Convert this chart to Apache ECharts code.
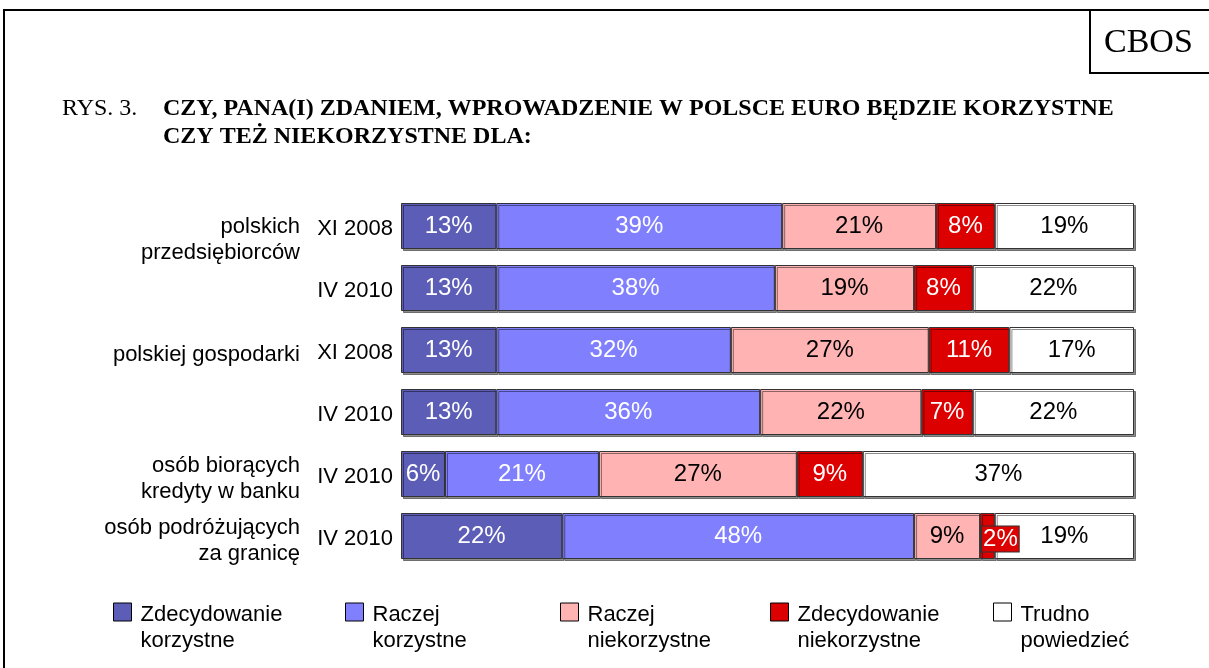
<!DOCTYPE html>
<html>
<head>
<meta charset="utf-8">
<script src="https://cdn.jsdelivr.net/npm/echarts@6/dist/echarts.min.js"></script>
<style>
	html, body {margin: 0; padding: 0; background: #fff;}
	#chart {width: 1209px; height: 668px;}
</style>
</head>
<body>
<div id="chart"></div>
<script>
	//------------------ dane -------------
	var dates = ['XI 2008', 'IV 2010', 'XI 2008', 'IV 2010', 'IV 2010', 'IV 2010'];
	var groups = ['polskich\nprzedsiębiorców', '', 'polskiej gospodarki', '', 'osób biorących\nkredyty w banku', 'osób podróżujących\nza granicę'];
	var zdecKorzystne = [13, 13, 13, 13, 6, 22];
	var raczKorzystne = [39, 38, 32, 36, 21, 48];
	var raczNiekorzystne = [21, 19, 27, 22, 27, 9];
	var zdecNiekorzystne = [8, 8, 11, 7, 9, 2];
	var trudno = [19, 22, 17, 22, 37, 19];
	var seriesNames = ['Zdecydowanie\nkorzystne', 'Raczej\nkorzystne', 'Raczej\nniekorzystne', 'Zdecydowanie\nniekorzystne', 'Trudno\npowiedzieć'];

	//------------------ style -------------
	var colors = ['#5b5db7', '#8080ff', '#ffb3b3', '#dd0000', '#ffffff'];
	var labelColors = ['#fff', '#fff', '#000', '#fff', '#000'];
	var legendLeft = [108, 340, 555, 765, 988];
	var font = 'Liberation Sans, Arial, sans-serif';
	var serif = 'Liberation Serif, Times New Roman, serif';

	var myChart = echarts.init(document.getElementById('chart'));

	var allData = [zdecKorzystne, raczKorzystne, raczNiekorzystne, zdecNiekorzystne, trudno];

	var series = allData.map(function (arr, s) {
		return {
			name: seriesNames[s],
			type: 'bar',
			stack: 'all',
			barWidth: 46,
			data: arr.map(function (v, i) {
				// mały segment 2% - etykieta w ramce obok
				if (s === 3 && v < 4) {
					return {
						value: v,
						label: {
							backgroundColor: '#dd0000',
							borderColor: '#333',
							borderWidth: 1,
							padding: [1, 1, 0, 1],
							offset: [13, 3]
						}
					};
				}
				return v;
			}),
			itemStyle: {
				color: colors[s],
				borderColor: '#333',
				borderWidth: 1,
				shadowColor: 'rgba(0,0,0,0.45)',
				shadowOffsetX: 2,
				shadowOffsetY: 2,
				shadowBlur: 0
			},
			label: {
				show: true,
				position: 'inside',
				formatter: '{c}%',
				color: labelColors[s],
				fontFamily: font,
				fontSize: 24
			}
		};
	});

	// etykieta z odstępem u góry (przesuwa tekst w dół)
	function spaced(value) {
		if (!value) return '';
		var lines = value.split('\n').map(function (l) { return '{a|' + l + '}'; });
		return '{s| }\n' + lines.join('\n');
	}

	// kwadrat u góry, tekst w dwóch wierszach obok
	var legendIcon = 'path://M0,0L18,0L18,18L0,18Z M0,50';

	var legends = seriesNames.map(function (n, s) {
		return {
			data: [n],
			left: legendLeft[s],
			top: 597,
			icon: legendIcon,
			itemWidth: 18,
			itemHeight: 50,
			selectedMode: false,
			itemStyle: {borderColor: '#000', borderWidth: 1, shadowColor: 'transparent', shadowOffsetX: 0, shadowOffsetY: 0},
			textStyle: {
				fontFamily: font,
				fontSize: 22,
				lineHeight: 26,
				color: '#000',
				padding: [0, 0, 0, 4]
			}
		};
	});

	var option = {
		animation: false,
		backgroundColor: '#fff',
		title: [
			{
				text: 'RYS. 3.',
				left: 57, top: 90,
				textStyle: {fontFamily: serif, fontWeight: 'normal', fontSize: 24, lineHeight: 28, color: '#000'}
			},
			{
				text: 'CZY, PANA(I) ZDANIEM, WPROWADZENIE W POLSCE EURO BĘDZIE KORZYSTNE\nCZY TEŻ NIEKORZYSTNE DLA:',
				left: 158, top: 90,
				textStyle: {fontFamily: serif, fontWeight: 'bold', fontSize: 24, lineHeight: 28, color: '#000'}
			},
			{
				text: 'CBOS',
				left: 1099, top: 21,
				textStyle: {fontFamily: serif, fontWeight: 'normal', fontSize: 34, color: '#000'}
			}
		],
		graphic: [
			{type: 'rect', shape: {x: 4, y: 10, width: 1230, height: 700}, style: {fill: 'none', stroke: '#000', lineWidth: 2}, silent: true},
			{type: 'rect', shape: {x: 1090, y: 10, width: 140, height: 63}, style: {fill: 'none', stroke: '#000', lineWidth: 2}, silent: true}
		],
		legend: legends,
		grid: {left: 401, top: 195, width: 733, height: 372},
		xAxis: {
			type: 'value',
			min: 0,
			max: 100,
			show: false
		},
		yAxis: [
			{
				type: 'category',
				inverse: true,
				data: dates,
				axisLine: {show: false},
				axisTick: {show: false},
				axisLabel: {
					margin: 8,
					formatter: function (v) { return spaced(v); },
					rich: {
						s: {fontSize: 4, lineHeight: 6},
						a: {fontFamily: font, fontSize: 22, lineHeight: 26, color: '#000', align: 'right'}
					}
				}
			},
			{
				type: 'category',
				inverse: true,
				position: 'left',
				offset: 93,
				data: groups,
				axisLine: {show: false},
				axisTick: {show: false},
				axisLabel: {
					margin: 8,
					formatter: function (v, i) {
						// pierwszy wiersz nazwy na wysokości słupka
						return i === 0 ? '{s| }\n{t| }\n' + spaced(v).replace('{s| }\n', '') : spaced(v);
					},
					rich: {
						s: {fontSize: 4, lineHeight: 10},
						t: {fontSize: 4, lineHeight: 18},
						a: {fontFamily: font, fontSize: 22, lineHeight: 26, color: '#000', align: 'right'}
					}
				}
			}
		],
		series: series
	};

	myChart.setOption(option);
</script>
</body>
</html>
